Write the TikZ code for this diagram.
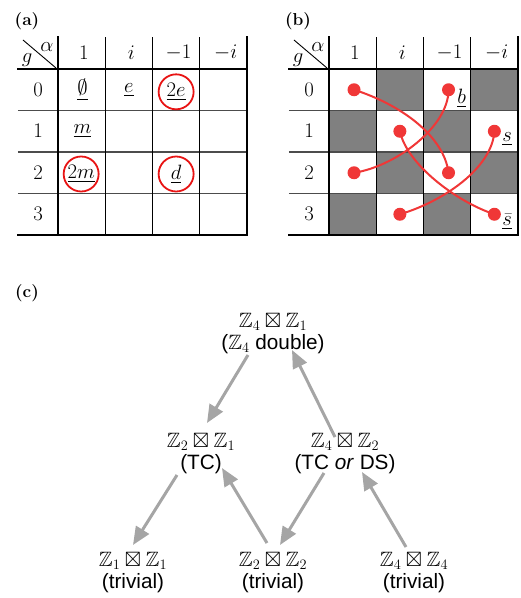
\documentclass[tikz,border=0pt]{standalone}
\usepackage[no-math]{fontspec}
\setsansfont{Liberation Sans}
\usepackage{amssymb}
\usetikzlibrary{calc}
\usetikzlibrary{arrows.meta}

\definecolor{ringred}{RGB}{232,20,20}
\definecolor{pairred}{RGB}{240,55,55}
\definecolor{cellgray}{RGB}{128,128,128}
\definecolor{arrowgray}{RGB}{165,165,165}

\tikzset{
  thickrule/.style={line width=2.6pt, line cap=rect},
  rowrule/.style={line width=1.3pt, black!70},
  colrule/.style={line width=0.9pt},
  ring/.style={circle, draw=ringred, line width=1.8pt, minimum size=35pt, inner sep=0pt},
  pairdot/.style={circle, fill=pairred, minimum size=13pt, inner sep=0pt},
  pairline/.style={pairred, line width=2pt},
  flow/.style={arrowgray, line width=3pt, -{Triangle[length=18pt,width=15pt]}},
  grp/.style={align=center, font=\fontsize{20.74}{22}\selectfont\sffamily, inner sep=0pt},
  panel/.style={font=\fontsize{17.28}{20}\selectfont\bfseries}
}

% frame of one g/alpha table, one unit per cell, #1 = prefix of node names
\newcommand{\tableframe}[1]{%
  \foreach \y in {1,2,3} \draw[rowrule] (-0.847,\y) -- (4,\y);
  \foreach \x in {1,2,3} \draw[colrule] (\x,-0.771) -- (\x,4);
  \draw[thickrule] (-0.847,0) -- (4,0);
  \draw[thickrule] (-0.847,4) -- (4,4);
  \draw[thickrule] (0,-0.771) -- (0,4);
  \draw[thickrule] (4,-0.771) -- (4,4);
  \draw[colrule] (-0.741,-0.699) -- (-0.042,-0.024);
  \node (#1-al) at (-0.233,-0.52) {$\alpha$};
  \node (#1-gl) at (-0.656,-0.217) {$g$};
  \foreach \a [count=\k] in {1,i,-1,-i}
    \node (#1-hd\k) at (\k-0.45,-0.386) {$\a$};
  \foreach \g in {0,...,3}
    \node (#1-g\g) at (-0.423,\g+0.5) {$\g$};
}

\begin{document}
\begin{tikzpicture}[x=1pt, y=-1pt]
\useasboundingbox (0,0) rectangle (521,598);

\node[panel] (pa) at (27,21) {(a)};
\node[panel] (pb) at (298,21) {(b)};
\node[panel] (pc) at (27,293) {(c)};

% table (a)
\begin{scope}[xshift=58pt, yshift=-69pt, x=47.25pt, y=-41.5pt, font=\huge]
\tableframe{a}
\node (empty) at (0.52,0.5) {$\underline{\emptyset}$};
\node (e) at (1.5,0.5) {$\underline{e}$};
\node (m) at (0.52,1.5) {$\underline{m}$};
\node[ring] (e2) at (2.5,0.55) {$\underline{2e}$};
\node[ring] (m2) at (0.49,2.53) {$\underline{2m}$};
\node[ring] (d) at (2.5,2.53) {$\underline{d}$};
\end{scope}

% table (b)
\begin{scope}[xshift=329pt, yshift=-69pt, x=47.25pt, y=-41.5pt, font=\huge]
\foreach \c/\r in {1/0,3/0,0/1,2/1,1/2,3/2,0/3,2/3}
  \fill[cellgray] (\c,\r) rectangle ++(1,1);
\tableframe{b}

\node[pairdot] (p01) at (0.53,0.5) {};
\node[pairdot] (p03) at (2.53,0.5) {};
\node[pairdot] (p12) at (1.5,1.5) {};
\node[pairdot] (p14) at (3.5,1.5) {};
\node[pairdot] (p21) at (0.53,2.5) {};
\node[pairdot] (p23) at (2.53,2.5) {};
\node[pairdot] (p32) at (1.5,3.5) {};
\node[pairdot] (p34) at (3.5,3.5) {};

\draw[pairline] (p01.center) .. controls (1.5,0.85) and (2.43,1.6) .. (p23.center);
\draw[pairline] (p21.center) .. controls (1.4,2.35) and (2.53,1.4) .. (p03.center);
\draw[pairline] (p12.center) .. controls (1.65,2.3) and (2.7,3.2) .. (p34.center);
\draw[pairline] (p32.center) .. controls (2.4,3.2) and (3.45,2.4) .. (p14.center);

\node (lb) at (2.81,0.7) {$\underline{b}$};
\node (ls) at (3.77,1.69) {$\underline{s}$};
\node (lsb) at (3.77,3.67) {$\underline{\bar{s}}$};
\end{scope}

% (c) group hierarchy
\node[grp] (top) at (273,333) {$\mathbb{Z}_4\boxtimes\mathbb{Z}_1$\\($\mathbb{Z}_4$ double)};
\node[grp] (tc) at (201,453) {$\mathbb{Z}_2\boxtimes\mathbb{Z}_1$\\(TC)};
\node[grp] (tcds) at (345,453) {$\mathbb{Z}_4\boxtimes\mathbb{Z}_2$\\(TC \textit{or} DS)};
\node[grp] (t11) at (133,572) {$\mathbb{Z}_1\boxtimes\mathbb{Z}_1$\\(trivial)};
\node[grp] (t22) at (273,572) {$\mathbb{Z}_2\boxtimes\mathbb{Z}_2$\\(trivial)};
\node[grp] (t44) at (414,572) {$\mathbb{Z}_4\boxtimes\mathbb{Z}_4$\\(trivial)};

\draw[flow] ($(top)+(-25,22)$) -- ($(tc)+(6,-30)$);
\draw[flow] ($(tcds)+(-10,-16)$) -- ($(top)+(19,17)$);
\draw[flow] ($(tc)+(-24,22)$) -- ($(t11)+(0,-27)$);
\draw[flow] ($(t22)+(-6,-29)$) -- ($(tc)+(21,15)$);
\draw[flow] ($(tcds)+(-21,20)$) -- ($(t22)+(7,-27)$);
\draw[flow] ($(t44)+(-8,-25)$) -- ($(tcds)+(17,19)$);

\end{tikzpicture}
\end{document}
